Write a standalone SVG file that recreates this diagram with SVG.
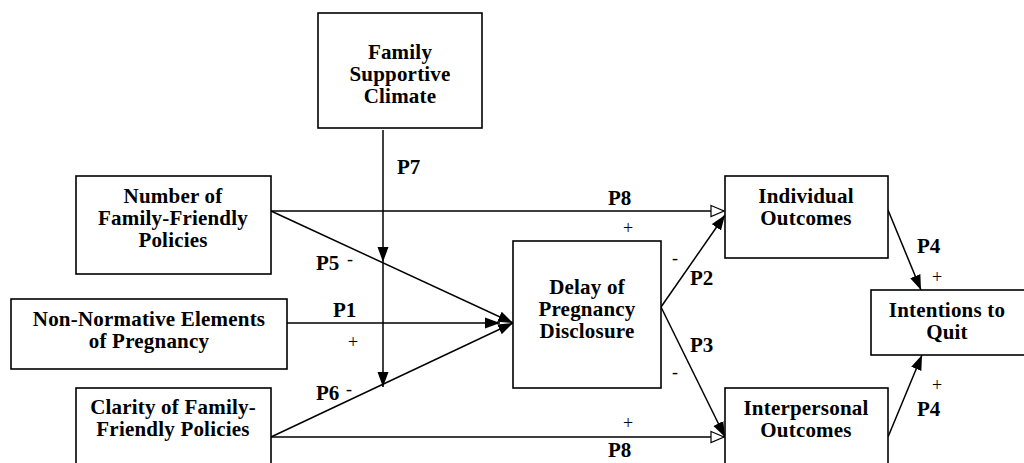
<svg xmlns="http://www.w3.org/2000/svg" width="1024" height="463" viewBox="0 0 1024 463">
<style>
.box{fill:#fff;stroke:#000;stroke-width:1.6}
.t{font-family:"Liberation Serif","Times New Roman",serif;font-weight:bold;font-size:21px;letter-spacing:0.2px;fill:#000;text-anchor:middle}
.l{font-family:"Liberation Serif","Times New Roman",serif;font-weight:bold;font-size:21px;fill:#000}
.s{font-family:"Liberation Serif","Times New Roman",serif;font-size:18px;fill:#000;text-anchor:middle}
.c{fill:none;stroke:#000;stroke-width:1.5}
</style>
<defs>
<marker id="fa" markerUnits="userSpaceOnUse" markerWidth="16" markerHeight="12" refX="15" refY="6" orient="auto">
<path d="M0,0.5 L15,6 L0,11.5 z" fill="#000"/>
</marker>
<marker id="oa" markerUnits="userSpaceOnUse" markerWidth="16" markerHeight="14" refX="14" refY="7" orient="auto">
<path d="M1,1.5 L14,7 L1,12.5 z" fill="#fff" stroke="#000" stroke-width="1.2"/>
</marker>
</defs>
<rect width="1024" height="463" fill="#fff"/>
<g id="connectors">
<polyline class="c" points="383,130 383,262 383,387" marker-mid="url(#fa)" marker-end="url(#fa)"/>
<line class="c" x1="271" y1="211" x2="724" y2="211" marker-end="url(#oa)"/>
<line class="c" x1="271" y1="437" x2="724" y2="437" marker-end="url(#oa)"/>
<line class="c" x1="271" y1="211" x2="513" y2="323" marker-end="url(#fa)"/>
<line class="c" x1="271" y1="437" x2="513" y2="323" marker-end="url(#fa)"/>
<line class="c" x1="287" y1="323" x2="500" y2="323" marker-end="url(#fa)"/>
<line class="c" x1="661" y1="307" x2="725" y2="215" marker-end="url(#fa)"/>
<line class="c" x1="661" y1="307" x2="725" y2="437" marker-end="url(#fa)"/>
<line class="c" x1="888" y1="210" x2="921" y2="290" marker-end="url(#fa)"/>
<line class="c" x1="888" y1="437" x2="922" y2="355" marker-end="url(#fa)"/>
<text class="l" x="397" y="174">P7</text>
<text class="l" x="608" y="205">P8</text>
<text class="s" x="628" y="234">+</text>
<text class="l" x="316" y="270">P5</text>
<text class="s" x="350" y="265">-</text>
<text class="l" x="333" y="317">P1</text>
<text class="s" x="353" y="348">+</text>
<text class="l" x="316" y="400">P6</text>
<text class="s" x="349" y="395">-</text>
<text class="s" x="628" y="429">+</text>
<text class="l" x="608" y="457">P8</text>
<text class="s" x="675" y="264">-</text>
<text class="l" x="690" y="285">P2</text>
<text class="l" x="690" y="352">P3</text>
<text class="s" x="675" y="378">-</text>
<text class="l" x="917" y="253">P4</text>
<text class="s" x="937" y="283">+</text>
<text class="s" x="937" y="391">+</text>
<text class="l" x="917" y="416">P4</text>
</g>
<g id="family-supportive-climate">
<rect class="box" x="318" y="13" width="164" height="115"/>
<text class="t" x="400" y="59">Family</text>
<text class="t" x="400" y="81">Supportive</text>
<text class="t" x="400" y="103">Climate</text>
</g>
<g id="number-ffp">
<rect class="box" x="76" y="176" width="195" height="98"/>
<text class="t" x="173" y="203">Number of</text>
<text class="t" x="173" y="225">Family-Friendly</text>
<text class="t" x="173" y="247">Policies</text>
</g>
<g id="non-normative">
<rect class="box" x="11" y="299" width="276" height="70"/>
<text class="t" x="149" y="326">Non-Normative Elements</text>
<text class="t" x="149" y="348">of Pregnancy</text>
</g>
<g id="clarity-ffp">
<rect class="box" x="76" y="388" width="195" height="90"/>
<text class="t" x="173" y="414">Clarity of Family-</text>
<text class="t" x="173" y="436">Friendly Policies</text>
</g>
<g id="delay">
<rect class="box" x="513" y="241" width="148" height="147"/>
<text class="t" x="587" y="294">Delay of</text>
<text class="t" x="587" y="316">Pregnancy</text>
<text class="t" x="587" y="338">Disclosure</text>
</g>
<g id="individual-outcomes">
<rect class="box" x="725" y="176" width="163" height="82"/>
<text class="t" x="806" y="203">Individual</text>
<text class="t" x="806" y="225">Outcomes</text>
</g>
<g id="interpersonal-outcomes">
<rect class="box" x="725" y="388" width="163" height="90"/>
<text class="t" x="806" y="415">Interpersonal</text>
<text class="t" x="806" y="437">Outcomes</text>
</g>
<g id="intentions-to-quit">
<rect class="box" x="871" y="290" width="160" height="65"/>
<text class="t" x="947" y="317">Intentions to</text>
<text class="t" x="947" y="339">Quit</text>
</g>
</svg>
